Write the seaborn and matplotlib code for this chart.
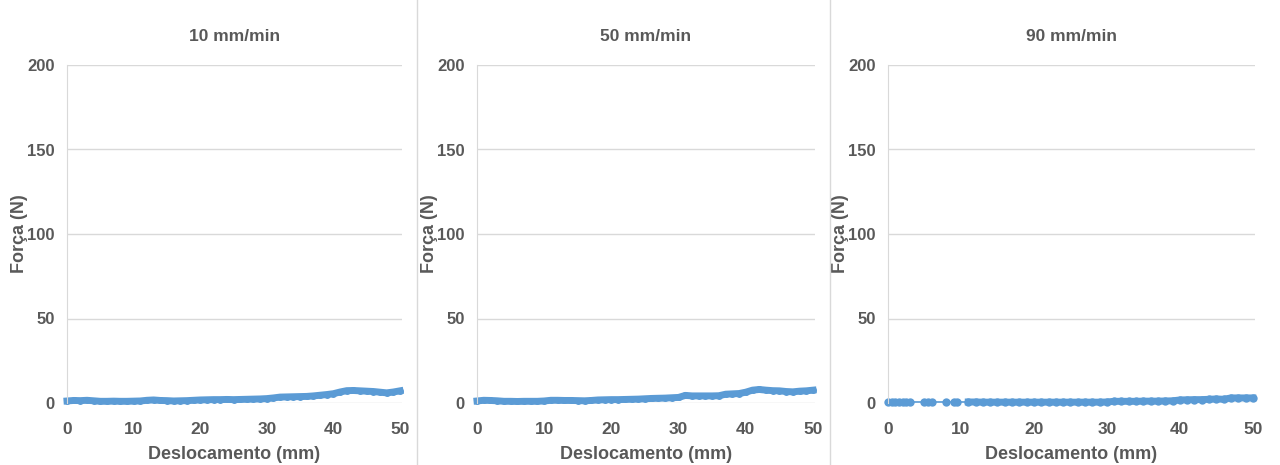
import matplotlib.pyplot as plt
import seaborn as sns
import pandas as pd
from matplotlib.lines import Line2D

# displacement (mm), read every 1 mm
desloc = list(range(0, 51))

forca_10 = [1.2, 1.5, 1.4, 1.6, 1.3, 1.0, 1.0, 1.1, 1.0, 1.0,
            1.1, 1.2, 1.6, 1.8, 1.5, 1.4, 1.2, 1.3, 1.4, 1.6,
            1.8, 1.9, 2.0, 2.0, 2.1, 2.0, 2.1, 2.2, 2.3, 2.4,
            2.6, 3.0, 3.5, 3.6, 3.7, 3.8, 3.9, 4.2, 4.6, 5.0,
            5.5, 6.5, 7.3, 7.4, 7.2, 7.0, 6.8, 6.4, 6.0, 6.5, 7.2]
forca_50 = [1.2, 1.6, 1.5, 1.3, 1.0, 1.0, 0.9, 1.0, 1.0, 1.0,
            1.2, 1.6, 1.6, 1.5, 1.5, 1.4, 1.3, 1.5, 1.8, 1.9,
            2.0, 2.0, 2.1, 2.2, 2.3, 2.5, 2.7, 2.8, 2.9, 3.1,
            3.3, 4.5, 4.2, 4.2, 4.2, 4.2, 4.3, 5.2, 5.4, 5.6,
            6.4, 7.6, 8.0, 7.6, 7.3, 7.2, 6.8, 6.6, 7.0, 7.2, 7.6]
desloc_90 = [0, 0.5, 1, 1.5, 2, 2.5, 3, 5, 5.5, 6, 8, 9, 9.5,
             11, 12, 13, 14, 15, 16, 17, 18, 19, 20, 21, 22, 23, 24, 25,
             26, 27, 28, 29, 30, 31, 32, 33, 34, 35, 36, 37, 38, 39, 40,
             41, 42, 43, 44, 45, 46, 47, 48, 49, 50]
forca_90 = [0.6, 0.6, 0.6, 0.6, 0.6, 0.6, 0.6, 0.6, 0.6, 0.6, 0.6, 0.6, 0.6,
            0.6, 0.6, 0.5, 0.5, 0.5, 0.5, 0.5, 0.5, 0.5, 0.5, 0.5, 0.5, 0.5, 0.5, 0.5,
            0.5, 0.5, 0.5, 0.5, 0.6, 1.0, 1.0, 1.0, 1.0, 1.1, 1.1, 1.1, 1.2, 1.3, 1.8,
            1.9, 2.0, 2.0, 2.2, 2.4, 2.2, 3.0, 3.0, 3.0, 3.0]

titulos = ["10 mm/min", "50 mm/min", "90 mm/min"]
cor = "#5b9bd5"
cinza = "#595959"

plt.rcParams['font.family'] = ['Liberation Sans', 'DejaVu Sans']
fig = plt.figure(figsize=(12.8, 4.65), dpi=100)

posicoes = [[67 / 1280, 62 / 465, 335 / 1280, 338 / 465],
            [477 / 1280, 62 / 465, 338 / 1280, 338 / 465],
            [888 / 1280, 62 / 465, 367 / 1280, 338 / 465]]
series = [(desloc, forca_10), (desloc, forca_50), (desloc_90, forca_90)]

for i, (pos, (x, y), titulo) in enumerate(zip(posicoes, series, titulos)):
    ax = fig.add_axes(pos)
    df = pd.DataFrame({"x": x, "y": y})
    if i < 2:
        sns.lineplot(data=df, x="x", y="y", ax=ax, color=cor, linewidth=5,
                     marker="o", markersize=5, markeredgewidth=0, sort=False)
    else:
        # scattered points with a thin joining line, band where the data is dense
        sns.lineplot(data=df, x="x", y="y", ax=ax, color=cor, linewidth=1.2,
                     marker="o", markersize=6, markeredgewidth=0, sort=False)
        sns.lineplot(data=df[df["x"] >= 11], x="x", y="y", ax=ax, color=cor,
                     linewidth=5, sort=False)
    for ln in ax.lines:
        ln.set_clip_on(False)
    ax.set_xlim(0, 50.3)
    ax.set_ylim(0, 200)
    ax.set_xticks([0, 10, 20, 30, 40, 50])
    ax.set_yticks([0, 50, 100, 150, 200])
    ax.grid(axis="y", color="#d9d9d9", linewidth=1)
    ax.set_axisbelow(True)
    for s in ["top", "right", "bottom"]:
        ax.spines[s].set_visible(False)
    ax.spines["left"].set_color("#d9d9d9")
    ax.tick_params(axis="y", length=0, labelsize=12, labelcolor=cinza, pad=9)
    ax.tick_params(axis="x", length=0, labelsize=12.5, labelcolor=cinza, pad=13.5)
    for lb in ax.get_xticklabels() + ax.get_yticklabels():
        lb.set_fontweight("bold")
    ax.set_xlabel("Deslocamento (mm)", fontsize=13, fontweight="bold", color=cinza, labelpad=7)
    ax.set_ylabel("Força (N)", fontsize=13, fontweight="bold", color=cinza)
    ax.yaxis.set_label_coords(-39 / (pos[2] * 1280), 0.5)
    ax.set_title(titulo, fontsize=12.5, fontweight="bold", color=cinza, pad=17.5)

for xs in [417 / 1280, 830 / 1280]:
    fig.add_artist(Line2D([xs, xs], [0, 1], color="#d9d9d9", linewidth=1))

fig.savefig("out.png", dpi=100, facecolor="white")
